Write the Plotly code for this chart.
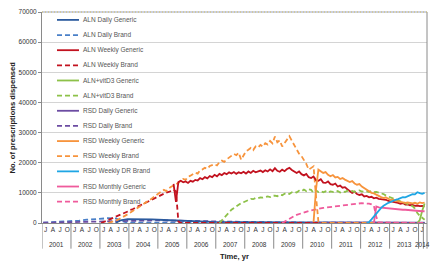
import plotly.graph_objects as go

# ---------------- data (month index 0 = Jan 2001) ----------------
series_names = [
    "ALN Daily Generic", "ALN Daily Brand", "ALN Weekly Generic", "ALN Weekly Brand",
    "ALN+vitD3 Generic", "ALN+vitD3 Brand", "RSD Daily Generic", "RSD Daily Brand",
    "RSD Weekly Generic", "RSD Weekly Brand", "RSD Weekly DR Brand",
    "RSD Monthly Generic", "RSD Monthly Brand",
]

aln_daily_generic_m = [30, 32, 35, 40, 45, 50, 55, 60, 70, 85, 100, 130, 158]
aln_daily_generic_v = [0, 900, 1300, 1300, 1200, 1000, 800, 600, 400, 250, 150, 100, 50]

aln_daily_brand_m = [0, 3, 6, 9, 12, 15, 18, 21, 24, 27, 30, 32, 34, 36, 158]
aln_daily_brand_v = [100, 200, 300, 400, 600, 800, 1100, 1300, 1500, 1600, 1500, 800, 300, 100, 0]

aln_weekly_generic_start = 54
aln_weekly_generic_v = [
    13000, 7000, 13600, 14000, 13500, 13800, 13300, 14000, 13700, 14300, 14100, 14900,
    14500, 15200, 14800, 15600, 15200, 16000, 15500, 16300, 15900, 16600, 16200, 16800,
    16400, 16900, 16300, 16800, 16500, 17000, 16400, 17100, 16600, 17300, 16800, 17000,
    17400, 16900, 17500, 17100, 17800, 17200, 18200, 17300, 17000, 17700, 17200, 17900,
    18300, 17600, 17000, 16600, 17100, 16200, 15800, 16300, 15200, 14900, 15400, 14200,
    14000, 14500, 13400, 13300, 13800, 12900, 12700, 13100, 12100, 12400, 11700, 11900,
    11200, 10600, 10000, 10400, 9600, 9300, 9500, 8800, 9000, 8500, 8700, 8200,
    8400, 8000, 7900, 7600, 7700, 7300, 7200, 6900, 7000, 6700, 6400, 6600,
    6100, 6200, 5900, 6000, 5700, 5800, 5600, 5700, 5500,
]

aln_weekly_brand_m = list(range(24, 58)) + [158]
aln_weekly_brand_v = [
    0, 300, 700, 1000, 1400, 1700, 2100, 2400, 2800, 3100, 3500, 3800,
    4300, 4500, 5000, 5400, 5700, 6100, 6500, 6800, 7300, 7700, 8000, 8600,
    9000, 9400, 9700, 10100, 10300, 10700, 11000, 10500, 500, 0, 0,
]

alnd3_generic_m = [155, 156, 157, 158]
alnd3_generic_v = [0, 1000, 4000, 6500]

alnd3_brand_start = 73
alnd3_brand_v = [
    0, 800, 1800, 2700, 3500, 4400, 5000, 5600, 6000, 6600, 6900, 7300,
    7600, 8000, 7900, 8300, 8200, 8500, 8400, 8600, 8800, 8600, 9000, 9100,
    8900, 9400, 9200, 9700, 10000, 9600, 10200, 10400, 10100, 10700, 10500, 11100,
    10600, 11200, 11000, 10000, 10800, 10300, 10600, 10200, 10500, 10100, 10500, 10300,
    10200, 10600, 10100, 10500, 10300, 10700, 10400, 10600, 10300, 10500, 10800, 10400,
    10600, 10500, 10300, 10600, 10200, 10300, 10100, 10000, 9600, 9100, 8800, 8400,
    8100, 7800, 7500, 7200, 6900, 6600, 6300, 6100, 5600, 4800, 3300, 2400,
    1700, 1100,
]

rsd_daily_generic_m = [110, 120, 158]
rsd_daily_generic_v = [0, 150, 150]

rsd_daily_brand_m = [0, 12, 24, 36, 48, 60, 72, 84, 96, 120, 158]
rsd_daily_brand_v = [100, 300, 600, 900, 900, 700, 500, 300, 200, 100, 50]

rsd_weekly_generic_start = 112
rsd_weekly_generic_v = [
    300, 11000, 17700, 17200, 16600, 16900, 16000, 15500, 15900, 15100, 15300, 14600,
    14900, 14400, 14000, 13600, 13900, 13100, 12700, 12900, 12100, 11500, 11000, 10400,
    10000, 9800, 9300, 9000, 8600, 8300, 8500, 8000, 7600, 7800, 7300, 7200,
    7000, 6900, 6700, 6800, 6600, 6500, 6700, 6400, 6800, 6600, 6800,
]

rsd_weekly_brand_m = list(range(27, 116)) + [158]
rsd_weekly_brand_v = [
    0, 200, 500, 800, 1100, 1500, 1900, 2400, 2900, 3400, 3900, 4500,
    4900, 5500, 5900, 6500, 7000, 7600, 8100, 8800, 9300, 9900, 10400, 11000,
    10600, 11500, 12000, 12400, 12900, 13300, 14100, 14600, 14300, 15300, 15700, 16100,
    16700, 16400, 17500, 17800, 18300, 18000, 18900, 19200, 19500, 19100, 20200, 20700,
    20300, 21100, 21700, 22300, 22900, 22500, 23300, 21000, 22600, 23800, 24300, 24900,
    24200, 25400, 25000, 25900, 25300, 26500, 26000, 27200, 26400, 28700, 26800, 27400,
    25400, 26600, 27900, 28800, 27300, 26000, 24300, 23000, 22200, 21000, 19600, 17700,
    18300, 18800, 9000, 500, 0, 0,
]

rsd_weekly_dr_start = 134
rsd_weekly_dr_v = [
    0, 300, 1200, 2200, 3200, 4200, 5000, 5700, 6300, 6700, 7000, 7400,
    7700, 7900, 8300, 8600, 8500, 8900, 9300, 9600, 9500, 10200, 9900, 9700, 10000,
]

rsd_monthly_generic_start = 137
rsd_monthly_generic_v = [
    0, 5500, 5200, 5100, 5000, 4900, 4800, 4800, 4700, 4600, 4600, 4500,
    4400, 4400, 4300, 4200, 4200, 4100, 4000, 4000, 3900, 3900,
]

rsd_monthly_brand_m = list(range(99, 140)) + [158]
rsd_monthly_brand_v = [
    0, 500, 1000, 1500, 2000, 2300, 2700, 3000, 3200, 3500, 3800, 4000,
    4200, 4400, 4500, 4700, 4800, 5000, 5100, 5200, 5300, 5500, 5600, 5800,
    5900, 6000, 6100, 6200, 6300, 6300, 6400, 6500, 6500, 6600, 6500, 6500,
    6400, 6200, 5700, 2000, 200, 0,
]

years = [str(y) for y in range(2001, 2015)]
quarter_labels = ["J", "A", "J", "O"]
y_ticks = [0, 10000, 20000, 30000, 40000, 50000, 60000, 70000]

# ---------------- styling ----------------
BLUE_D = "#2c5a9e"
BLUE_L = "#4a80c8"
RED = "#c2121f"
GREEN = "#8dc149"
PURPLE = "#6c4ca2"
ORANGE = "#f7943d"
CYAN = "#1fa6e4"
PINK = "#ef5b9c"
DASH = "5px,3px"
FONT = "Liberation Sans, Arial, sans-serif"


def rng(start, vals):
    return list(range(start, start + len(vals)))


traces = [
    ("ALN Daily Brand", aln_daily_brand_m, aln_daily_brand_v, BLUE_L, DASH),
    ("RSD Daily Brand", rsd_daily_brand_m, rsd_daily_brand_v, PURPLE, DASH),
    ("ALN Daily Generic", aln_daily_generic_m, aln_daily_generic_v, BLUE_D, "solid"),
    ("RSD Daily Generic", rsd_daily_generic_m, rsd_daily_generic_v, PURPLE, "solid"),
    ("ALN Weekly Brand", aln_weekly_brand_m, aln_weekly_brand_v, RED, DASH),
    ("RSD Weekly Brand", rsd_weekly_brand_m, rsd_weekly_brand_v, ORANGE, DASH),
    ("ALN Weekly Generic", rng(aln_weekly_generic_start, aln_weekly_generic_v), aln_weekly_generic_v, RED, "solid"),
    ("ALN+vitD3 Brand", rng(alnd3_brand_start, alnd3_brand_v), alnd3_brand_v, GREEN, DASH),
    ("ALN+vitD3 Generic", alnd3_generic_m, alnd3_generic_v, GREEN, "solid"),
    ("RSD Monthly Brand", rsd_monthly_brand_m, rsd_monthly_brand_v, PINK, DASH),
    ("RSD Weekly Generic", rng(rsd_weekly_generic_start, rsd_weekly_generic_v), rsd_weekly_generic_v, ORANGE, "solid"),
    ("RSD Monthly Generic", rng(rsd_monthly_generic_start, rsd_monthly_generic_v), rsd_monthly_generic_v, PINK, "solid"),
    ("RSD Weekly DR Brand", rng(rsd_weekly_dr_start, rsd_weekly_dr_v), rsd_weekly_dr_v, CYAN, "solid"),
]
style = {t[0]: (t[3], t[4]) for t in traces}

fig = go.Figure()
for name, x, y, color, dash in traces:
    fig.add_trace(go.Scatter(
        x=x, y=y, name=name, mode="lines", showlegend=False,
        line=dict(color=color, width=1.8, dash=dash),
    ))

# ---------------- geometry (page pixels; page body has an 8px margin) ----------------
OFF = 8
PAGE_W, PAGE_H = 440, 272
PL, PT, PR, PB = 42, 12, 427, 223.3      # plot-area edges on the page
W, H = PAGE_W - OFF, PAGE_H - OFF
L, T = PL - OFF, PT - OFF
R, B = PAGE_W - PR, PAGE_H - PB
PW, PH = PR - PL, PB - PT


def px_x(px):
    return (px - PL) / PW


def px_y(py):
    return (PB - py) / PH


shapes = []
annotations = []

# manual legend (compact spacing as in the reference)
for i, name in enumerate(series_names):
    color, dash = style[name]
    yc = px_y(19.9 + i * 15.17)
    shapes.append(dict(type="line", xref="paper", yref="paper",
                       x0=px_x(57), x1=px_x(79), y0=yc, y1=yc,
                       line=dict(color=color, width=1.8, dash=dash)))
    annotations.append(dict(xref="paper", yref="paper", x=px_x(80.5), y=yc,
                            text=name, showarrow=False, xanchor="left", yanchor="middle",
                            font=dict(family=FONT, size=6.5, color="#555555")))

# year labels and separators
sep_bottom = px_y(249)
for k, yr in enumerate(years):
    start = 12 * k - 0.5
    end = 12 * k + 11.5
    xc = (start + end) / 2 if k < 13 else 157.2
    annotations.append(dict(xref="x", yref="paper", x=xc,
                            y=px_y(245), text=yr, showarrow=False,
                            xanchor="center", yanchor="middle",
                            font=dict(family=FONT, size=6.5, color="#333333")))
    shapes.append(dict(type="line", xref="x", yref="paper", x0=start, x1=start,
                       y0=0, y1=sep_bottom, line=dict(color="#8a8a8a", width=1)))
shapes.append(dict(type="line", xref="x", yref="paper", x0=157.5, x1=157.5,
                   y0=0, y1=sep_bottom, line=dict(color="#8a8a8a", width=1)))
# right border
shapes.append(dict(type="line", xref="paper", yref="paper", x0=1, x1=1,
                   y0=sep_bottom, y1=1, line=dict(color="#8a8a8a", width=1)))
# top border (dotted)
shapes.append(dict(type="line", xref="paper", yref="paper", x0=0, x1=1, y0=1, y1=1,
                   line=dict(color="#9aa3c4", width=1)))
shapes.append(dict(type="line", xref="paper", yref="paper", x0=0, x1=1, y0=1, y1=1,
                   line=dict(color="#d6c25a", width=1, dash="1px,2px")))

# axis titles
annotations.append(dict(xref="paper", yref="paper", x=px_x(12), y=0.5,
                        text="<b>No. of prescriptions dispensed</b>", textangle=-90,
                        showarrow=False, xanchor="center", yanchor="middle",
                        font=dict(family=FONT, size=7.6, color="#222222")))
annotations.append(dict(xref="paper", yref="paper", x=px_x(234), y=px_y(257),
                        text="<b>Time, yr</b>", showarrow=False,
                        xanchor="center", yanchor="middle",
                        font=dict(family=FONT, size=7.6, color="#222222")))

tickvals = []
ticktext = []
for k in range(len(years)):
    for q, lab in enumerate(quarter_labels):
        v = 12 * k + 3 * q + 1
        if v <= 158:
            tickvals.append(v)
            ticktext.append(lab)

fig.update_layout(
    width=W, height=H,
    margin=dict(l=L, r=R, t=T, b=B, pad=0),
    paper_bgcolor="white", plot_bgcolor="white",
    showlegend=False,
    shapes=shapes, annotations=annotations,
    xaxis=dict(range=[-0.5, 159], tickvals=tickvals, ticktext=ticktext,
               showgrid=False, zeroline=False, showline=True, linecolor="#8a8a8a",
               linewidth=1, ticks="", ticklen=0, automargin=False,
               tickfont=dict(family=FONT, size=6.5, color="#333333")),
    yaxis=dict(range=[0, 70000], tickvals=y_ticks, ticktext=[str(v) for v in y_ticks],
               showgrid=True, gridcolor="#d4d4d4", gridwidth=1, zeroline=False,
               showline=True, linecolor="#8a8a8a", linewidth=1, automargin=False,
               ticks="outside", ticklen=3, tickcolor="#8a8a8a",
               tickfont=dict(family=FONT, size=6.5, color="#333333")),
)

fig.write_html("out.html")
